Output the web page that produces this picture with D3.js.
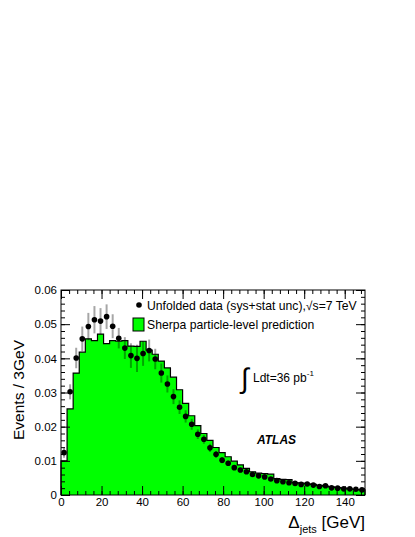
<html>
<head>
<title>Delta jets</title>
<script src="https://d3js.org/d3.v7.min.js" charset="utf-8"></script>
<style>
body { margin: 0; background: white; }
text { font-family: "Liberation Sans", Arial, sans-serif; }
</style>
</head>
<body>
<script>
// bins are 3 GeV wide, 0..150
var binEdges = d3.range(0, 151, 3);

// Sherpa particle-level prediction, one value per bin
var sherpa = [0.0100, 0.0252, 0.0357, 0.0418, 0.0457, 0.0452, 0.0471, 0.0443, 0.0452, 0.0450,
  0.0452, 0.0436, 0.0435, 0.0450, 0.0424, 0.0412, 0.0392, 0.0372, 0.0345, 0.0308,
  0.0268, 0.0232, 0.0203, 0.0180, 0.0160, 0.0139, 0.0124, 0.0112, 0.0099, 0.0088,
  0.0078, 0.0068, 0.0064, 0.0063, 0.0061, 0.0048, 0.0046, 0.0045, 0.0036, 0.0035,
  0.0033, 0.0031, 0.0028, 0.0026, 0.0024, 0.0022, 0.0020, 0.0018, 0.0016, 0.0015];

// unfolded data and its sys+stat uncertainty
var unfolded = [0.0124, 0.0302, 0.0401, 0.0457, 0.0493, 0.0513, 0.0509, 0.0522, 0.0494, 0.0459,
  0.0430, 0.0408, 0.0400, 0.0414, 0.0423, 0.0398, 0.0357, 0.0325, 0.0288, 0.0257,
  0.0230, 0.0207, 0.0178, 0.0163, 0.0138, 0.0119, 0.0102, 0.0093, 0.0080, 0.0073,
  0.0068, 0.0060, 0.0056, 0.0053, 0.0047, 0.0042, 0.0039, 0.0036, 0.0034, 0.0031,
  0.0032, 0.0029, 0.0025, 0.0027, 0.0021, 0.0020, 0.0018, 0.0018, 0.0017, 0.0015];
var unfoldedErr = [0.0015, 0.0022, 0.0030, 0.0036, 0.0040, 0.0040, 0.0038, 0.0036, 0.0035, 0.0030,
  0.0032, 0.0036, 0.0040, 0.0036, 0.0032, 0.0030, 0.0028, 0.0025, 0.0022, 0.0020,
  0.0018, 0.0016, 0.0014, 0.0013, 0.0012, 0.0010, 0.0009, 0.0008, 0.0007, 0.0007,
  0.0006, 0.0006, 0.0005, 0.0005, 0.0005, 0.0004, 0.0004, 0.0004, 0.0004, 0.0003,
  0.0003, 0.0003, 0.0003, 0.0003, 0.0003, 0.0003, 0.0003, 0.0003, 0.0003, 0.0003];

var xTicks = [0, 20, 40, 60, 80, 100, 120, 140];
var yTicks = [0, 0.01, 0.02, 0.03, 0.04, 0.05, 0.06];
var yTickLabels = ["0", "0.01", "0.02", "0.03", "0.04", "0.05", "0.06"];

var width = 415, height = 537;
var pLeft = 61, pRight = 365, pTop = 290, pBottom = 495;

var svg = d3.select("body").append("svg")
  .attr("width", width).attr("height", height);
svg.append("rect").attr("width", width).attr("height", height).attr("fill", "white");

var x = d3.scaleLinear().domain([0, 150]).range([pLeft, pRight]);
var y = d3.scaleLinear().domain([0, 0.06]).range([pBottom, pTop]);

// histogram as step area
var steps = [];
sherpa.forEach(function(v, i) {
  steps.push([binEdges[i], v]);
  steps.push([binEdges[i + 1], v]);
});
svg.append("path")
  .datum(steps)
  .attr("fill", "#00ff00")
  .attr("d", d3.area().x(function(d) { return x(d[0]); }).y0(y(0)).y1(function(d) { return y(d[1]); }));
svg.append("path")
  .datum([[0, 0]].concat(steps).concat([[150, 0]]))
  .attr("fill", "none")
  .attr("stroke", "black")
  .attr("stroke-width", 1.2)
  .attr("d", d3.line().x(function(d) { return x(d[0]); }).y(function(d) { return y(d[1]); }));

// data points
var pts = svg.append("g");
pts.selectAll("line")
  .data(unfolded)
  .enter().append("line")
  .attr("x1", function(d, i) { return x(binEdges[i] + 1.5); })
  .attr("x2", function(d, i) { return x(binEdges[i] + 1.5); })
  .attr("y1", function(d, i) { return y(d - unfoldedErr[i]); })
  .attr("y2", function(d, i) { return y(d + unfoldedErr[i]); })
  .attr("stroke", "black")
  .attr("stroke-opacity", 0.35)
  .attr("stroke-width", 2);
pts.selectAll("circle")
  .data(unfolded)
  .enter().append("circle")
  .attr("cx", function(d, i) { return x(binEdges[i] + 1.5); })
  .attr("cy", function(d) { return y(d); })
  .attr("r", 2.8)
  .attr("fill", "black");

// axes, ROOT style ticks inside the frame
var xMinor = d3.range(0, 151, 4);
var yMinor = d3.range(0, 0.0601, 0.002);

svg.append("g").attr("transform", "translate(0," + pBottom + ")")
  .call(d3.axisBottom(x).tickValues(xMinor).tickSize(-4).tickFormat(""));
svg.append("g").attr("transform", "translate(0," + pBottom + ")")
  .call(d3.axisBottom(x).tickValues(xTicks).tickSize(-9).tickPadding(3).tickFormat(d3.format("d")))
  .attr("class", "xaxis");
svg.append("g").attr("transform", "translate(0," + pTop + ")")
  .call(d3.axisTop(x).tickValues(xMinor).tickSize(-4).tickFormat(""));
svg.append("g").attr("transform", "translate(0," + pTop + ")")
  .call(d3.axisTop(x).tickValues(xTicks).tickSize(-9).tickFormat(""));

svg.append("g").attr("transform", "translate(" + pLeft + ",0)")
  .call(d3.axisLeft(y).tickValues(yMinor).tickSize(-4).tickFormat(""));
svg.append("g").attr("transform", "translate(" + pLeft + ",0)")
  .call(d3.axisLeft(y).tickValues(yTicks).tickSize(-9).tickPadding(4)
    .tickFormat(function(d, i) { return yTickLabels[i]; }))
  .attr("class", "yaxis");
svg.append("g").attr("transform", "translate(" + pRight + ",0)")
  .call(d3.axisRight(y).tickValues(yMinor).tickSize(-4).tickFormat(""));
svg.append("g").attr("transform", "translate(" + pRight + ",0)")
  .call(d3.axisRight(y).tickValues(yTicks).tickSize(-9).tickFormat(""));

svg.selectAll(".domain").remove();
svg.selectAll(".tick line").attr("stroke", "black").attr("stroke-width", 1);
svg.selectAll(".xaxis text, .yaxis text")
  .attr("font-family", "Liberation Sans, Arial, sans-serif")
  .attr("font-size", 11.5).attr("fill", "black");

svg.append("rect")
  .attr("x", pLeft).attr("y", pTop)
  .attr("width", pRight - pLeft).attr("height", pBottom - pTop)
  .attr("fill", "none").attr("stroke", "black").attr("stroke-width", 1);

// axis titles
svg.append("text")
  .attr("transform", "translate(24,390) rotate(-90)")
  .attr("text-anchor", "middle")
  .attr("font-size", 15.5)
  .text("Events / 3GeV");

var xt = svg.append("text")
  .attr("x", pRight).attr("y", 528)
  .attr("text-anchor", "end")
  .attr("font-size", 17);
xt.append("tspan").text("\u0394");
xt.append("tspan").attr("font-size", 11).attr("dy", 5).text("jets");
xt.append("tspan").attr("dy", -5).text(" [GeV]");

// legend
svg.append("circle").attr("cx", 139).attr("cy", 305).attr("r", 2.8).attr("fill", "black");
svg.append("text").attr("x", 147).attr("y", 309.5).attr("font-size", 12.2)
  .text("Unfolded data (sys+stat unc),\u221As=7 TeV");
svg.append("rect").attr("x", 133).attr("y", 318).attr("width", 11).attr("height", 13)
  .attr("fill", "#00ff00").attr("stroke", "black").attr("stroke-width", 1);
svg.append("text").attr("x", 147).attr("y", 329).attr("font-size", 12.2)
  .text("Sherpa particle-level prediction");

// luminosity and label
svg.append("text").attr("x", 241).attr("y", 388).attr("font-size", 28).text("\u222B");
var lumi = svg.append("text").attr("x", 253).attr("y", 382).attr("font-size", 12);
lumi.append("tspan").text("Ldt=36 pb");
lumi.append("tspan").attr("font-size", 8).attr("dy", -6).text("-1");

svg.append("text").attr("x", 257).attr("y", 444)
  .attr("font-size", 12).attr("font-weight", "bold").attr("font-style", "italic")
  .text("ATLAS");
</script>
</body>
</html>
